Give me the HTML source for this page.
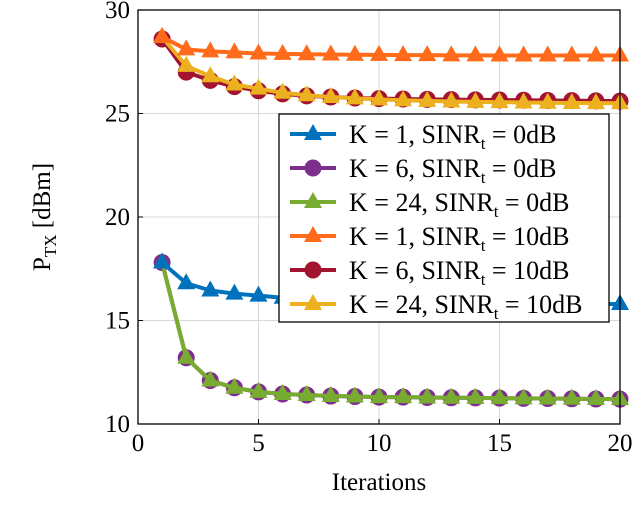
<!DOCTYPE html>
<html><head><meta charset="utf-8"><style>
body{margin:0;background:#fff;}
svg{display:block;font-family:"Liberation Serif",serif;}
</style></head><body>
<svg id="chart" width="640" height="520"></svg>
<script>
const iterations=[1,2,3,4,5,6,7,8,9,10,11,12,13,14,15,16,17,18,19,20];
const k1_0dB=[17.8,16.8,16.45,16.3,16.2,16.1,16.05,16.0,16.0,15.95,15.95,15.9,15.9,15.9,15.85,15.85,15.85,15.85,15.8,15.8];
const k6_0dB=[17.8,13.2,12.1,11.75,11.55,11.45,11.4,11.35,11.33,11.3,11.3,11.28,11.27,11.26,11.25,11.24,11.23,11.22,11.21,11.2];
const k24_0dB=[17.8,13.2,12.1,11.75,11.55,11.45,11.4,11.35,11.33,11.3,11.3,11.28,11.27,11.26,11.25,11.24,11.23,11.22,11.21,11.2];
const k1_10dB=[28.7,28.1,28.0,27.95,27.9,27.88,27.86,27.85,27.84,27.83,27.82,27.82,27.81,27.81,27.8,27.8,27.8,27.8,27.8,27.8];
const k6_10dB=[28.6,27.0,26.6,26.3,26.1,25.95,25.85,25.8,25.75,25.72,25.7,25.68,25.67,25.66,25.65,25.64,25.63,25.62,25.61,25.6];
const k24_10dB=[28.7,27.3,26.8,26.4,26.2,26.0,25.88,25.8,25.73,25.68,25.64,25.61,25.58,25.56,25.55,25.53,25.52,25.51,25.5,25.5];
const xTicks=[0,5,10,15,20];
const yTicks=[10,15,20,25,30];
const seriesNames=["K = 1, SINR","K = 6, SINR","K = 24, SINR","K = 1, SINR","K = 6, SINR","K = 24, SINR"];
const seriesSuffix=[" = 0dB"," = 0dB"," = 0dB"," = 10dB"," = 10dB"," = 10dB"];

const NS="http://www.w3.org/2000/svg";
const svg=document.getElementById('chart');
const X0=138,X1=620,Y0=424,Y1=10;
const xs=v=>X0+(v-0)/(20-0)*(X1-X0);
const ys=v=>Y0-(v-10)/(30-10)*(Y0-Y1);
function mk(t,a,p){const e=document.createElementNS(NS,t);for(const k in a)e.setAttribute(k,a[k]);(p||svg).appendChild(e);return e;}

xTicks.forEach(t=>{const l=mk('line',{x1:xs(t),x2:xs(t),y1:Y1,y2:Y0,stroke:'#d8d8d8','stroke-width':1});
});
yTicks.forEach(t=>{const l=mk('line',{x1:X0,x2:X1,y1:ys(t),y2:ys(t),stroke:'#d8d8d8','stroke-width':1});
});
xTicks.forEach(t=>{const e=mk('text',{x:xs(t),y:Y0+27,'text-anchor':'middle','font-size':25});e.textContent=t;

mk('line',{x1:xs(t),x2:xs(t),y1:Y0,y2:Y0-5,stroke:'#000'});});
yTicks.forEach(t=>{const e=mk('text',{x:X0-8,y:ys(t)+8,'text-anchor':'end','font-size':25});e.textContent=t;

mk('line',{x1:X0,x2:X0+5,y1:ys(t),y2:ys(t),stroke:'#000'});});

const colors=['#0072BD','#7E2F8E','#77AC30','#FF6B1A','#A2142F','#EDB120'];
const markers=['tri','circ','tri','tri','circ','tri'];
const data=[k1_0dB,k6_0dB,k24_0dB,k1_10dB,k6_10dB,k24_10dB];
const ids=['k1-0db','k6-0db','k24-0db','k1-10db','k6-10db','k24-10db'];
function marker(type,x,y,c,g){
 if(type==='circ')return mk('circle',{cx:x,cy:y,r:8,fill:c,stroke:c},g);
 return mk('polygon',{points:`${x},${y-10} ${x-9},${y+6} ${x+9},${y+6}`,fill:c},g);
}
const drawOrder=[1,2,0,4,5,3];
drawOrder.forEach(i=>{
 const g=mk('g',{});
 const pts=data[i].map((v,j)=>xs(iterations[j])+','+ys(v)).join(' ');
 mk('polyline',{points:pts,fill:'none',stroke:colors[i],'stroke-width':4,'stroke-linejoin':'round'},g);
 data[i].forEach((v,j)=>{const m=marker(markers[i],xs(iterations[j]),ys(v),colors[i],g);
  });
});
const bx=mk('rect',{x:X0,y:Y1,width:X1-X0,height:Y0-Y1,fill:'none',stroke:'#000','stroke-width':1.3});


const lg=mk('g',{});
mk('rect',{x:279,y:114,width:330,height:208,fill:'#fff',stroke:'#000','stroke-width':1.3},lg);
for(let i=0;i<6;i++){
 const e=mk('g',{},lg);
 const cy=134+i*34;
 mk('line',{x1:290,x2:336,y1:cy,y2:cy,stroke:colors[i],'stroke-width':4},e);
 marker(markers[i],313,cy,colors[i],e);
 const t=mk('text',{x:349,y:cy+9,'font-size':26},e);
 t.appendChild(document.createTextNode(seriesNames[i]));
 const s=mk('tspan',{'font-size':17,dy:6},t);s.textContent='t';
 const r=mk('tspan',{dy:-6},t);r.textContent=seriesSuffix[i];
}
const xt=mk('text',{x:379,y:490,'text-anchor':'middle','font-size':25});xt.textContent='Iterations';

const yt=mk('text',{x:0,y:0,'text-anchor':'middle','font-size':25,transform:'translate(50,217) rotate(-90)'});
yt.appendChild(document.createTextNode('P'));
const sb=mk('tspan',{'font-size':17,dy:6},yt);sb.textContent='TX';
const rb=mk('tspan',{dy:-6},yt);rb.textContent=' [dBm]';

</script>
</body></html>
